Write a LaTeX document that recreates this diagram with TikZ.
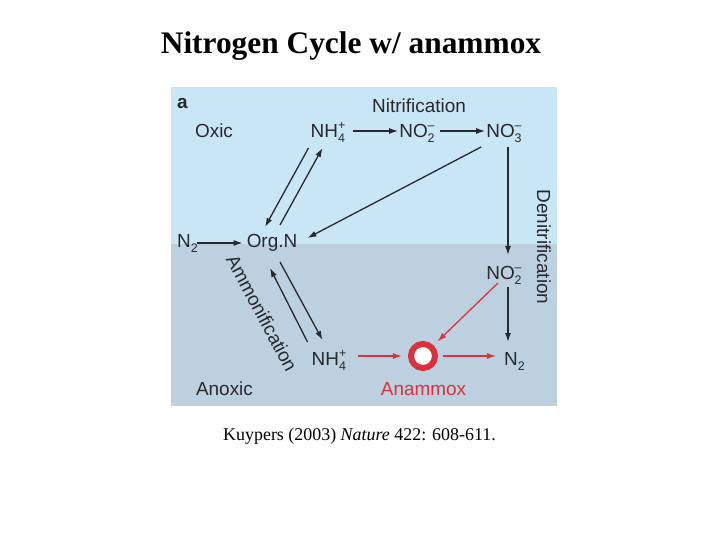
\documentclass[tikz,border=0pt]{standalone}
\usepackage{fontspec}
\setmainfont{Liberation Serif}
\newfontfamily\arialf{Liberation Sans}
\usetikzlibrary{arrows.meta,calc}
\definecolor{oxicbg}{RGB}{201,230,246}
\definecolor{anoxbg}{RGB}{188,208,223}
\definecolor{ink}{RGB}{40,40,45}
\definecolor{amxred}{RGB}{218,50,60}
\newcommand{\subsz}{\fontsize{12.5}{12.5}\selectfont}
\newcommand{\ionlab}[3]{#1\rlap{\raisebox{-0.5ex}{\subsz #2}}\raisebox{0.8ex}{\subsz #3}}
\begin{document}
\begin{tikzpicture}[x=1bp,y=-1bp,
 lab/.style={font=\arialf\fontsize{19}{19}\selectfont, text=ink, inner sep=0pt, anchor=base},
 rotlab/.style={font=\arialf\fontsize{19}{19}\selectfont, text=ink, inner sep=0pt, anchor=center},
 flow/.style={draw=ink, line width=1.3bp, -{Latex[length=9bp,width=6bp]}},
 redflow/.style={draw=amxred, line width=1.3bp, -{Latex[length=9bp,width=6bp]}},
]
\useasboundingbox (0,0) rectangle (720,540);
\fill[white] (0,0) rectangle (720,540);
\fill[oxicbg] (171,87) rectangle (557,244);
\fill[anoxbg] (171,244) rectangle (557,406);

% title and citation
\node[font=\bfseries\fontsize{31.5}{31.5}\selectfont, inner sep=0pt, anchor=base] (title) at (351,54) {Nitrogen Cycle w/ anammox};
\node[font=\fontsize{18}{18}\selectfont, inner sep=0pt, anchor=base] (cite) at (359.5,440) {Kuypers (2003) \textit{Nature} 422: 608-611.};

% labels
\node[lab, anchor=base west, font=\arialf\bfseries\fontsize{19}{19}\selectfont] (panel) at (177,109) {a};
\node[lab] (nitr) at (419,113) {Nitrification};
\node[lab] (oxic) at (214,138) {Oxic};
\node[lab] (anoxic) at (224.5,395) {Anoxic};
\node[lab, text=amxred] (anammox) at (423.5,395) {Anammox};
\node[rotlab, rotate=-90] (denit) at (544,247) {Denitrification};
\node[rotlab, rotate=-62] (ammon) at (262,313) {Ammonification};

% species
\node[lab] (nhA) at (328,138) {\ionlab{NH}{4}{+}};
\node[lab] (no2A) at (417,138) {\ionlab{NO}{2}{–}};
\node[lab] (no3A) at (504,138) {\ionlab{NO}{3}{–}};
\node[lab] (orgn) at (272,248) {Org.N};
\node[lab] (n2A) at (184,248) {\ionlab{N}{2}{}};
\node[lab] (no2B) at (504,280) {\ionlab{NO}{2}{–}};
\node[lab] (nhB) at (329,365) {\ionlab{NH}{4}{+}};
\node[lab] (n2B) at (511,365) {\ionlab{N}{2}{}};
\node[circle, draw=amxred, line width=6bp, fill=white, minimum size=24bp, inner sep=0pt] (amx) at (423,356) {};

% nitrification
\draw[flow] ($(nhA.base east)+(7,-7)$) -- ($(no2A.base west)+(-1,-7)$);
\draw[flow] ($(no2A.base east)+(5,-7)$) -- ($(no3A.base west)+(-1,-7)$);
% N2 fixation
\draw[flow] ($(n2A.base east)+(6,-5)$) -- ($(orgn.base west)+(-4,-5)$);
% assimilation of NO3
\draw[flow] ($(no3A.base west)+(-5,9)$) -- ($(orgn.base east)+(10,-10)$);
% oxic NH4 <-> Org.N
\draw[flow] ($(nhA.base west)+(-2,10)$) -- ($(orgn.base)+(-7,-21)$);
\draw[flow] ($(orgn.base)+(8,-23)$) -- ($(nhA.base west)+(12,10)$);
% anoxic Org.N <-> NH4
\draw[flow] ($(nhB.base west)+(-4,-23)$) -- ($(orgn.base)+(-2,20)$);
\draw[flow] ($(orgn.base)+(8,14)$) -- ($(nhB.base west)+(11,-25)$);
% denitrification
\draw[flow] ($(no3A.base)+(4,9)$) -- ($(no2B.base)+(4,-25)$);
\draw[flow] ($(no2B.base)+(4,7)$) -- ($(n2B.base)+(-3,-23)$);
% anammox
\draw[redflow] ($(no2B.base)+(-6,3)$) -- ($(amx.north east)+(4,-4)$);
\draw[redflow] ($(nhB.base east)+(11,-9)$) -- ($(amx.west)+(-6,0)$);
\draw[redflow] ($(amx.east)+(5,0)$) -- ($(n2B.base west)+(-8,-9)$);
\end{tikzpicture}
\end{document}
